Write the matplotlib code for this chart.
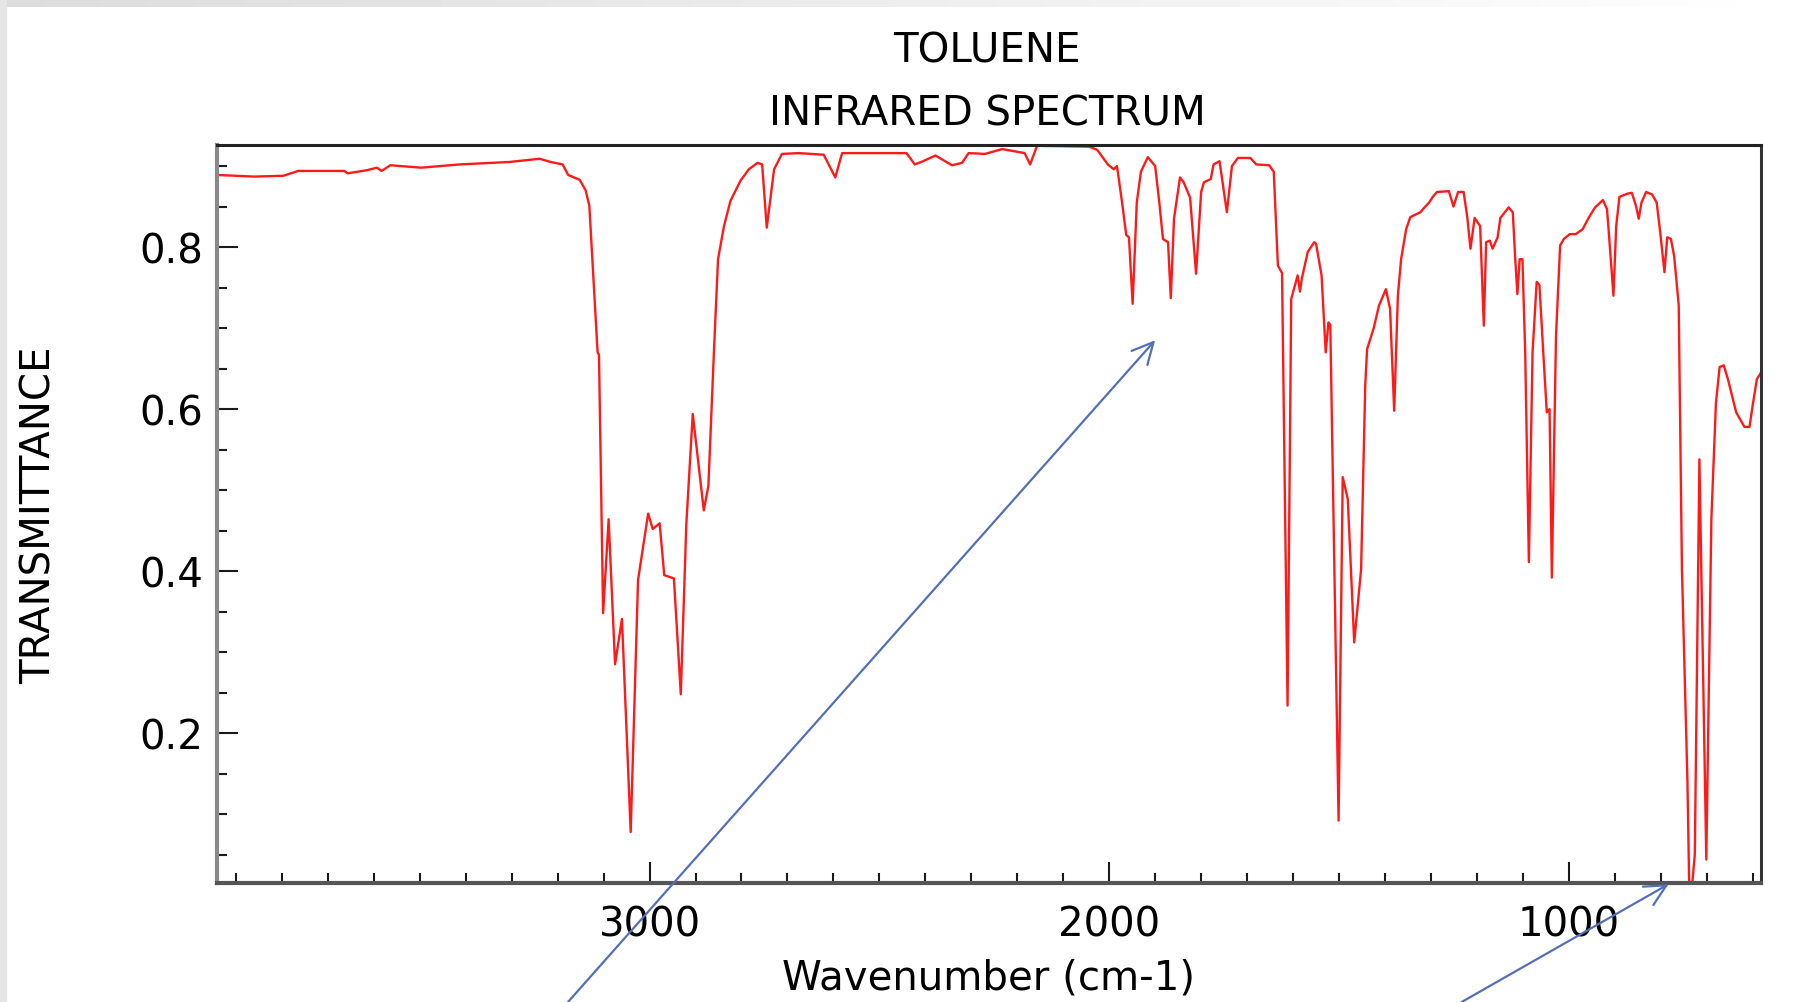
import numpy as np
import matplotlib
matplotlib.use('Agg')
from matplotlib import pyplot as plt
from matplotlib.patches import Rectangle
from matplotlib.ticker import MultipleLocator, FixedLocator

# toluene IR spectrum (wavenumber in cm-1, transmittance)
wavenumber = [3941, 3860, 3797, 3764, 3700, 3664, 3657, 3614, 3593, 3583,
              3564, 3497, 3414, 3306, 3239, 3215, 3189, 3177, 3152, 3139,
              3131, 3122, 3113, 3110, 3101, 3089, 3075, 3060, 3041, 3025,
              3003, 2993, 2978, 2968, 2947, 2932, 2920, 2906, 2882, 2872,
              2860, 2851, 2838, 2824, 2802, 2784, 2765, 2755, 2745, 2729,
              2712, 2675, 2621, 2596, 2581, 2441, 2423, 2405, 2378, 2342,
              2320, 2306, 2270, 2233, 2184, 2172, 2157, 2044, 2026, 2003,
              1990, 1983, 1972, 1963, 1957, 1949, 1940, 1931, 1916, 1900,
              1891, 1883, 1872, 1866, 1859, 1846, 1838, 1824, 1811, 1800,
              1794, 1779, 1773, 1760, 1744, 1733, 1720, 1693, 1680, 1652,
              1642, 1633, 1624, 1612, 1604, 1590, 1585, 1581, 1568, 1554,
              1550, 1538, 1529, 1523, 1519, 1501, 1492, 1481, 1467, 1452,
              1443, 1439, 1425, 1413, 1398, 1389, 1380, 1372, 1365, 1354,
              1345, 1323, 1314, 1304, 1296, 1287, 1261, 1251, 1241, 1229,
              1221, 1214, 1205, 1193, 1185, 1180, 1172, 1166, 1155, 1149,
              1131, 1122, 1117, 1112, 1107, 1101, 1095, 1087, 1079, 1070,
              1064, 1055, 1048, 1042, 1037, 1028, 1019, 1011, 998, 985,
              970, 957, 943, 926, 917, 911, 903, 897, 890, 872,
              863, 854, 848, 842, 832, 819, 809, 802, 792, 786,
              778, 771, 761, 754, 742, 738, 733, 726, 716, 701,
              690, 680, 672, 663, 654, 636, 618, 607, 600, 591,
              582]
transmittance = [0.889, 0.887, 0.888, 0.894, 0.894, 0.894, 0.891, 0.895, 0.898, 0.894,
                 0.901, 0.898, 0.902, 0.905, 0.909, 0.905, 0.902, 0.889, 0.883, 0.870,
                 0.851, 0.760, 0.670, 0.667, 0.348, 0.464, 0.285, 0.341, 0.078, 0.389,
                 0.471, 0.452, 0.459, 0.395, 0.391, 0.248, 0.458, 0.594, 0.475, 0.505,
                 0.670, 0.785, 0.826, 0.857, 0.882, 0.896, 0.904, 0.902, 0.824, 0.896,
                 0.915, 0.916, 0.914, 0.886, 0.916, 0.916, 0.902, 0.906, 0.913, 0.901,
                 0.904, 0.916, 0.915, 0.921, 0.916, 0.902, 0.925, 0.924, 0.920, 0.902,
                 0.896, 0.900, 0.855, 0.815, 0.812, 0.730, 0.855, 0.893, 0.911, 0.900,
                 0.855, 0.810, 0.806, 0.737, 0.835, 0.886, 0.880, 0.861, 0.767, 0.868,
                 0.880, 0.884, 0.902, 0.906, 0.843, 0.900, 0.910, 0.910, 0.902, 0.901,
                 0.893, 0.777, 0.768, 0.234, 0.736, 0.765, 0.745, 0.761, 0.794, 0.806,
                 0.804, 0.765, 0.670, 0.707, 0.704, 0.092, 0.516, 0.489, 0.312, 0.402,
                 0.629, 0.674, 0.699, 0.728, 0.748, 0.724, 0.598, 0.740, 0.785, 0.822,
                 0.837, 0.843, 0.849, 0.855, 0.862, 0.868, 0.869, 0.850, 0.868, 0.868,
                 0.837, 0.798, 0.836, 0.826, 0.703, 0.806, 0.808, 0.798, 0.812, 0.836,
                 0.849, 0.843, 0.789, 0.742, 0.785, 0.785, 0.670, 0.411, 0.670, 0.757,
                 0.753, 0.663, 0.596, 0.600, 0.392, 0.690, 0.802, 0.810, 0.816, 0.816,
                 0.822, 0.836, 0.849, 0.858, 0.847, 0.802, 0.740, 0.826, 0.862, 0.866,
                 0.867, 0.851, 0.835, 0.855, 0.868, 0.865, 0.855, 0.822, 0.769, 0.812,
                 0.810, 0.789, 0.728, 0.402, 0.140, 0.005, 0.005, 0.050, 0.538, 0.044,
                 0.464, 0.608, 0.652, 0.654, 0.637, 0.596, 0.578, 0.578, 0.605, 0.637,
                 0.645]

x_major = [3000, 2000, 1000]
y_major = [0.2, 0.4, 0.6, 0.8]

# arrows: tip in data coords, tail on the lower figure edge (figure fraction)
arrow_tips = [(1900, 0.685), (783, 0.0136)]
arrow_tails = [(0.3168, 0.0), (0.8152, 0.0)]

W, H = 1793, 1003
fig = plt.figure(figsize=(W / 100, H / 100), dpi=100)
fig.patch.set_facecolor('white')

# light grey frame on the left / top of the screenshot
fig.patches.append(Rectangle((0, 0), 6 / W, 1, transform=fig.transFigure,
                             color='#e6e6e6', zorder=0))
bar = fig.add_axes([0, 1 - 8 / H, 1, 8 / H])
grad = np.linspace(0.86, 1.0, 256).reshape(1, -1)
bar.imshow(grad, cmap='gray', vmin=0, vmax=1, aspect='auto')
bar.axis('off')

ax = fig.add_axes([217 / W, 1 - 884 / H, (1761 - 217) / W, (884 - 146) / H])
ax.plot(wavenumber, transmittance, color='#ff1a1a', lw=1.7)

ax.set_xlim(3941, 582)
ax.set_ylim(0.015, 0.926)

ax.xaxis.set_major_locator(FixedLocator(x_major))
ax.xaxis.set_minor_locator(MultipleLocator(100))
ax.yaxis.set_major_locator(FixedLocator(y_major))
ax.yaxis.set_minor_locator(MultipleLocator(0.05))
ax.set_xticklabels([str(v) for v in x_major])
ax.set_yticklabels([f'{v:.1f}' for v in y_major])

fs = 29
ax.tick_params(which='both', direction='in', color='#1a1a1a', width=1.5,
               labelsize=fs, top=False, right=False)
ax.tick_params(which='major', length=15)
ax.tick_params(which='minor', length=7.5)
ax.tick_params(axis='x', pad=15.5)
ax.tick_params(axis='y', pad=10)

ax.spines['left'].set_color('#8a8a8a')
ax.spines['left'].set_linewidth(3)
ax.spines['bottom'].set_color('#555555')
ax.spines['bottom'].set_linewidth(3)
ax.spines['top'].set_color('#222222')
ax.spines['top'].set_linewidth(2.2)
ax.spines['right'].set_color('#333333')
ax.spines['right'].set_linewidth(2.2)

ax.set_xlabel('Wavenumber (cm-1)', fontsize=fs, labelpad=9)
ax.set_ylabel('TRANSMITTANCE', fontsize=fs, va='center')
ax.yaxis.set_label_coords(-0.1146, 0.5)

fig.text(0.5505, 0.949, 'TOLUENE', fontsize=fs, ha='center', va='center')
fig.text(0.5505, 0.886, 'INFRARED SPECTRUM', fontsize=fs, ha='center', va='center')

for tip, tail in zip(arrow_tips, arrow_tails):
    ax.annotate('', xy=tip, xycoords='data', xytext=tail,
                textcoords='figure fraction', annotation_clip=False,
                arrowprops=dict(arrowstyle='->', color='#5470b4', lw=1.6,
                                shrinkA=0, shrinkB=0, mutation_scale=38))

fig.savefig('out.png', dpi=100)
